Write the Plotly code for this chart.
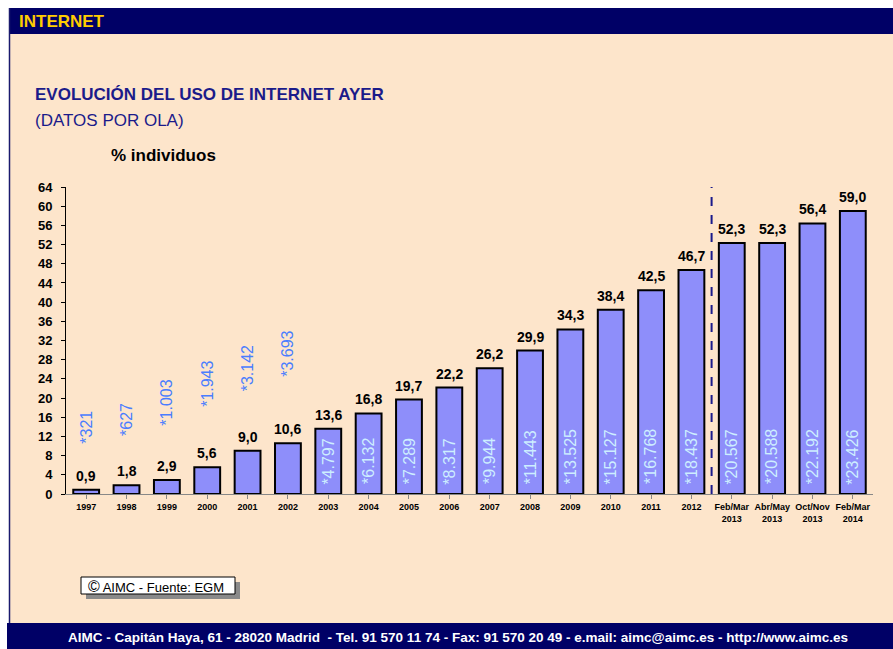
import plotly.graph_objects as go

W, H = 893, 649
ML, MR, MT, MB = 66, 20, 187, 155

categories = ["1997", "1998", "1999", "2000", "2001", "2002", "2003", "2004", "2005",
              "2006", "2007", "2008", "2009", "2010", "2011", "2012",
              "Feb/Mar<br>2013", "Abr/May<br>2013", "Oct/Nov<br>2013", "Feb/Mar<br>2014"]
pct_values = [0.9, 1.8, 2.9, 5.6, 9.0, 10.6, 13.6, 16.8, 19.7, 22.2, 26.2, 29.9,
              34.3, 38.4, 42.5, 46.7, 52.3, 52.3, 56.4, 59.0]
users_thousands = ["*321", "*627", "*1.003", "*1.943", "*3.142", "*3.693", "*4.797",
                   "*6.132", "*7.289", "*8.317", "*9.944", "*11.443", "*13.525",
                   "*15.127", "*16.768", "*18.437", "*20.567", "*20.588", "*22.192",
                   "*23.426"]
# label base height (axis units) for the user counts drawn above the small bars
outside_label_base = [10.0, 11.7, 13.8, 17.8, 20.9, 24.0]
y_ticks = list(range(0, 65, 4))

NAVY = "#000066"
BEIGE = "#FDE5CB"
FONT = "Liberation Sans, Arial, sans-serif"


def px_x(p):
    return (p - ML) / (W - ML - MR)


def px_y(p):
    return 1 - (p - MT) / (H - MT - MB)


fig = go.Figure()
fig.add_trace(go.Bar(
    x=list(range(len(categories))), y=pct_values,
    marker=dict(color="#8E8EFA", line=dict(color="#000000", width=2)),
    hoverinfo="skip",
))

shapes = []
# background panel, header, footer
shapes.append(dict(type="rect", xref="paper", yref="paper", layer="below",
                   x0=px_x(9), x1=px_x(W), y0=px_y(8), y1=px_y(H),
                   fillcolor=BEIGE, line=dict(width=0)))
shapes.append(dict(type="rect", xref="paper", yref="paper", layer="below",
                   x0=px_x(9), x1=px_x(W), y0=px_y(8), y1=px_y(34),
                   fillcolor=NAVY, line=dict(width=0)))
shapes.append(dict(type="line", xref="paper", yref="paper", layer="below",
                   x0=px_x(9.5), x1=px_x(9.5), y0=px_y(8), y1=px_y(624),
                   line=dict(color="#1a1a6e", width=1.5)))
shapes.append(dict(type="rect", xref="paper", yref="paper", layer="below",
                   x0=px_x(7), x1=px_x(W), y0=px_y(623), y1=px_y(H),
                   fillcolor=NAVY, line=dict(width=0)))
# copyright box with shadow
shapes.append(dict(type="rect", xref="paper", yref="paper",
                   x0=px_x(86), x1=px_x(240), y0=px_y(582), y1=px_y(599),
                   fillcolor="#8a8a8a", line=dict(width=0)))
shapes.append(dict(type="rect", xref="paper", yref="paper",
                   x0=px_x(81), x1=px_x(235), y0=px_y(577), y1=px_y(594),
                   fillcolor="#FFFFFF", line=dict(color="#000000", width=1)))
# dashed separator between annual data and waves
shapes.append(dict(type="line", xref="x", yref="y",
                   x0=15.5, x1=15.5, y0=0, y1=64.3,
                   line=dict(color="#1a1a8c", width=2, dash="dash")))

annotations = []
for i, v in enumerate(pct_values):
    annotations.append(dict(x=i, y=v, xref="x", yref="y", yanchor="bottom",
                            text="<b>" + f"{v:.1f}".replace(".", ",") + "</b>", showarrow=False,
                            yshift=4, font=dict(family=FONT, size=14, color="#000000")))
for i, t in enumerate(users_thousands):
    if i < len(outside_label_base):
        annotations.append(dict(x=i, y=outside_label_base[i], xref="x", yref="y",
                                yanchor="bottom", text=t, textangle=-90, showarrow=False,
                                font=dict(family=FONT, size=16, color="#4A7DFF")))
    else:
        annotations.append(dict(x=i, y=1.6, xref="x", yref="y",
                                yanchor="bottom", text=t, textangle=-90, showarrow=False,
                                font=dict(family=FONT, size=16, color="#CDEEFF")))

annotations += [
    dict(xref="paper", yref="paper", x=px_x(17), y=px_y(21), xanchor="left", yanchor="middle",
         text="<b>INTERNET</b>", showarrow=False,
         font=dict(family=FONT, size=17, color="#FFCC00")),
    dict(xref="paper", yref="paper", x=px_x(33), y=px_y(95), xanchor="left", yanchor="middle",
         text="<b>EVOLUCIÓN DEL USO DE INTERNET AYER</b>", showarrow=False,
         font=dict(family=FONT, size=17, color="#1B1B8A")),
    dict(xref="paper", yref="paper", x=px_x(33), y=px_y(121), xanchor="left", yanchor="middle",
         text="(DATOS POR OLA)", showarrow=False,
         font=dict(family=FONT, size=17, color="#1B1B8A")),
    dict(xref="paper", yref="paper", x=px_x(109), y=px_y(155), xanchor="left", yanchor="middle",
         text="<b>% individuos</b>", showarrow=False,
         font=dict(family=FONT, size=17, color="#000000")),
    dict(xref="paper", yref="paper", x=px_x(86), y=px_y(586), xanchor="left", yanchor="middle",
         text="<span style='font-size:16px'>©</span> AIMC - Fuente: EGM", showarrow=False,
         font=dict(family=FONT, size=13, color="#000000")),
    dict(xref="paper", yref="paper", x=px_x(458), y=px_y(637), xanchor="center", yanchor="middle",
         text="<b>AIMC - Capitán Haya, 61 - 28020 Madrid  - Tel. 91 570 11 74 - Fax: 91 570 20 49 - e.mail: aimc@aimc.es - http://www.aimc.es</b>",
         showarrow=False,
         font=dict(family=FONT, size=13.5, color="#FFFFFF")),
]

fig.update_layout(
    width=W, height=H,
    margin=dict(l=ML, r=MR, t=MT, b=MB),
    paper_bgcolor="#FFFFFF", plot_bgcolor="rgba(0,0,0,0)",
    showlegend=False, bargap=0.36,
    shapes=shapes, annotations=annotations,
    font=dict(family=FONT),
)
fig.update_xaxes(
    range=[-0.5, len(categories) - 0.5],
    tickmode="array", tickvals=list(range(len(categories))), ticktext=categories,
    tickson="boundaries", ticks="outside", ticklen=4, tickcolor="#888888",
    showline=True, linecolor="#888888", linewidth=1, showgrid=False, zeroline=False,
    tickfont=dict(family=FONT, size=9, color="#000000", weight="bold"),
    tickangle=0,
)
fig.update_yaxes(
    range=[0, 64], tickvals=y_ticks, ticks="outside", ticklen=4, tickcolor="#000000",
    showline=True, linecolor="#000000", linewidth=1, showgrid=False, zeroline=False,
    tickfont=dict(family=FONT, size=13, color="#000000", weight="bold"),
    ticklabelstandoff=6,
)

fig.write_html("out.html")
